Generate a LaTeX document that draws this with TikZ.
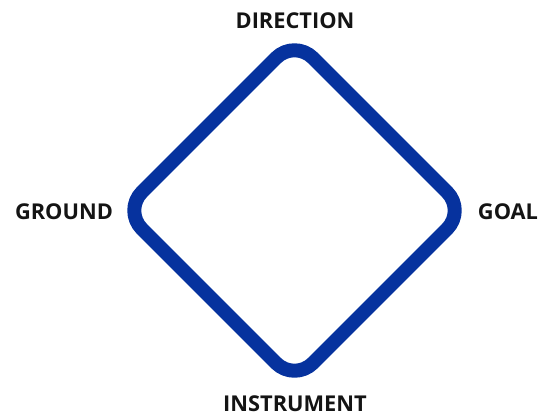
\documentclass[tikz,border=0pt]{standalone}
\usepackage{fontspec}
\setmainfont{Open Sans}
\usetikzlibrary{positioning,calc}
\definecolor{deepblue}{RGB}{6,50,158}

\begin{document}
\begin{tikzpicture}[x=1pt,y=-1pt]
\tikzstyle{caplabel}=[font=\fontsize{21.8}{24}\selectfont\bfseries,inner sep=0pt,text=black!92]
\tikzstyle{rim}=[draw=deepblue,line width=14pt,rounded corners=26pt,line join=round]
\useasboundingbox (0,0) rectangle (539,416);

\coordinate (c) at (294.5,210.5);
\coordinate (vtop) at ($(c)+(0,-171)$);
\coordinate (vright) at ($(c)+(171,0)$);
\coordinate (vbot) at ($(c)+(0,171)$);
\coordinate (vleft) at ($(c)+(-171,0)$);
\path[rim] (vtop) -- (vright) -- (vbot) -- (vleft) -- cycle;

\node[caplabel] (dir) at (295,21) {DIRECTION};
\node[caplabel] (gnd) at (64,212) {GROUND};
\node[caplabel] (goal) at (508,212) {GOAL};
\node[caplabel] (inst) at (295,404) {INSTRUMENT};
\end{tikzpicture}
\end{document}
